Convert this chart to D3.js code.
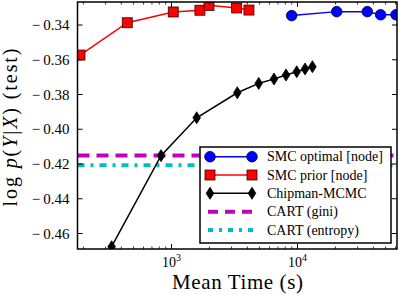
<!DOCTYPE html>
<html><head><meta charset="utf-8">
<script src="https://cdn.jsdelivr.net/npm/d3@7"></script>
<style>body{margin:0;background:#fff}svg{display:block}</style>
</head><body><svg id="c" width="399" height="295"></svg>
<script>
const smcOptX=[8990,20470,35800,45700,60500];
const smcOptY=[-0.3346,-0.3323,-0.3323,-0.3341,-0.3341];
const smcOptErr=[0.0009,0.0011,0,0,0];
const smcPriorX=[188,446,1033,1682,1985,3290,4120];
const smcPriorY=[-0.3573,-0.3387,-0.3325,-0.3315,-0.3287,-0.3302,-0.3314];
const smcPriorErr=[0.0016,0,0,0,0,0,0];
const mcmcX=[335,826,1585,3330,4920,6510,8110,9860,11480,13130];
const mcmcY=[-0.4676,-0.4152,-0.3934,-0.3790,-0.3736,-0.3711,-0.3688,-0.3669,-0.3653,-0.3640];
const cartGini=-0.4151;
const cartEntropy=-0.4207;
const yTicks=[-0.34,-0.36,-0.38,-0.40,-0.42,-0.44,-0.46];
const xMajor=[1e3,1e4];
const xTickLabels=["3","4"];
const legendLabels=["SMC optimal [node]","SMC prior [node]","Chipman-MCMC","CART (gini)","CART (entropy)"];

const FF="'Liberation Serif','DejaVu Serif',serif";
const L=77.5,R=397,T=2,B=249;
const x=d3.scaleLog().domain([179.6,61600]).range([L,R]);
const y=d3.scaleLinear().domain([-0.46892,-0.32676]).range([B,T]);
const svg=d3.select("#c");
svg.append("defs").append("clipPath").attr("id","clip").append("rect").attr("x",L).attr("y",T).attr("width",R-L).attr("height",B-T);
const g=svg.append("g").attr("clip-path","url(#clip)");

g.append("line").attr("x1",L).attr("x2",R).attr("y1",y(cartGini)).attr("y2",y(cartGini))
 .attr("stroke","#bf00bf").attr("stroke-width",4).attr("stroke-dasharray","12,7");
g.append("line").attr("x1",L).attr("x2",R).attr("y1",y(cartEntropy)).attr("y2",y(cartEntropy))
 .attr("stroke","#00bfbf").attr("stroke-width",4).attr("stroke-dasharray","7,6,3,6");

const line=d3.line();
function series(xs,ys,errs,color,errColor){
  const pts=xs.map((v,i)=>[x(v),y(ys[i])]);
  g.append("path").attr("d",line(pts)).attr("fill","none").attr("stroke",color).attr("stroke-width",1.5);
  if(errs){errs.forEach((e,i)=>{if(!e)return;const cx=x(xs[i]);
    const y1=y(ys[i]-e),y2=y(ys[i]+e);
    g.append("line").attr("x1",cx).attr("x2",cx).attr("y1",y1).attr("y2",y2).attr("stroke",errColor).attr("stroke-width",1.5);
    [y1,y2].forEach(yy=>g.append("line").attr("x1",cx-3.5).attr("x2",cx+3.5).attr("y1",yy).attr("y2",yy).attr("stroke",errColor).attr("stroke-width",1.5));
  });}
  return pts;
}
function circle(sel,cx,cy){sel.append("circle").attr("cx",cx).attr("cy",cy).attr("r",5.3).attr("fill","#0000ff").attr("stroke","#000033").attr("stroke-width",0.8);}
function square(sel,cx,cy){sel.append("rect").attr("x",cx-5).attr("y",cy-5).attr("width",10).attr("height",10).attr("fill","#ff0000").attr("stroke","#330000").attr("stroke-width",0.8);}
function diamond(sel,cx,cy){sel.append("path").attr("d",`M${cx},${cy-6}L${cx+3.8},${cy}L${cx},${cy+6}L${cx-3.8},${cy}Z`).attr("fill","#000").attr("stroke","#000").attr("stroke-width",0.8);}

const pr=series(smcPriorX,smcPriorY,smcPriorErr,"#ff0000","#ff8080");
pr.forEach(p=>square(g,p[0],p[1]));
const op=series(smcOptX,smcOptY,smcOptErr,"#0000ff","#4040ff");
op.forEach(p=>circle(g,p[0],p[1]));
const mc=series(mcmcX,mcmcY,null,"#000");
mc.forEach(p=>diamond(g,p[0],p[1]));

const ax=svg.append("g");
const minor=[];
[100,1000,10000].forEach(d=>{for(let k=2;k<10;k++){const v=d*k;if(v>179.6&&v<61600)minor.push(v);}});
minor.forEach(v=>{const px=x(v);
  ax.append("line").attr("x1",px).attr("x2",px).attr("y1",B).attr("y2",B-2.5).attr("stroke","#000").attr("stroke-width",0.8);
  ax.append("line").attr("x1",px).attr("x2",px).attr("y1",T).attr("y2",T+2.5).attr("stroke","#000").attr("stroke-width",0.8);});
xMajor.forEach((v,i)=>{const px=x(v);
  ax.append("line").attr("x1",px).attr("x2",px).attr("y1",B).attr("y2",B-5).attr("stroke","#000").attr("stroke-width",1);
  ax.append("line").attr("x1",px).attr("x2",px).attr("y1",T).attr("y2",T+5).attr("stroke","#000").attr("stroke-width",1);
  const t=ax.append("text").attr("x",px).attr("y",267).attr("text-anchor","middle").attr("font-size",14).attr("font-family",FF);
  t.append("tspan").text("10");
  t.append("tspan").attr("dy",-6).attr("font-size",10).text(xTickLabels[i]);
});
yTicks.forEach(v=>{const py=y(v);
  ax.append("line").attr("x1",L).attr("x2",L+5).attr("y1",py).attr("y2",py).attr("stroke","#000").attr("stroke-width",1);
  ax.append("line").attr("x1",R).attr("x2",R-5).attr("y1",py).attr("y2",py).attr("stroke","#000").attr("stroke-width",1);
  const t=ax.append("text").attr("x",69.5).attr("y",py+5).attr("text-anchor","end").attr("font-size",15).attr("font-family",FF);
  t.append("tspan").text("\u2212");
  t.append("tspan").attr("dx",3).text(Math.abs(v).toFixed(2));
});
svg.append("rect").attr("x",L).attr("y",T).attr("width",R-L).attr("height",B-T).attr("fill","none").attr("stroke","#000").attr("stroke-width",1.5);

svg.append("text").attr("x",237.5).attr("y",289).attr("text-anchor","middle").attr("font-size",21).attr("font-family",FF)
  .attr("textLength",131).attr("lengthAdjust","spacing").text("Mean Time (s)");
const yl=svg.append("text").attr("transform","translate(17,127.5) rotate(-90)").attr("text-anchor","middle").attr("font-size",20).attr("font-family",FF)
  .attr("textLength",158).attr("lengthAdjust","spacing");
[["log ",""],["p","italic"],["(",""],["Y","italic"],["|",""],["X","italic"],[")",""],[" (test)",""]].forEach(([s,st])=>{
  const ts=yl.append("tspan").text(s); if(st) ts.attr("font-style",st);});

const lg=svg.append("g");
lg.append("rect").attr("x",200).attr("y",147).attr("width",191).attr("height",96).attr("fill","#fff").attr("stroke","#000").attr("stroke-width",1.5);
const ly=[156.7,175,193.3,211.7,230];
const x1=210,x2=252;
lg.append("line").attr("x1",x1).attr("x2",x2).attr("y1",ly[0]).attr("y2",ly[0]).attr("stroke","#0000ff").attr("stroke-width",1.5);
circle(lg,x1,ly[0]);circle(lg,x2,ly[0]);
lg.append("line").attr("x1",x1).attr("x2",x2).attr("y1",ly[1]).attr("y2",ly[1]).attr("stroke","#ff0000").attr("stroke-width",1.5);
square(lg,x1,ly[1]);square(lg,x2,ly[1]);
lg.append("line").attr("x1",x1).attr("x2",x2).attr("y1",ly[2]).attr("y2",ly[2]).attr("stroke","#000").attr("stroke-width",1.5);
diamond(lg,x1,ly[2]);diamond(lg,x2,ly[2]);
lg.append("line").attr("x1",x1-2).attr("x2",x2+2).attr("y1",ly[3]).attr("y2",ly[3]).attr("stroke","#bf00bf").attr("stroke-width",4).attr("stroke-dasharray","10,7");
lg.append("line").attr("x1",x1-2).attr("x2",x2+2).attr("y1",ly[4]).attr("y2",ly[4]).attr("stroke","#00bfbf").attr("stroke-width",4).attr("stroke-dasharray","5,6,3,6");
legendLabels.forEach((s,i)=>lg.append("text").attr("x",267).attr("y",ly[i]+4.5).attr("font-size",14).attr("font-family",FF).text(s));
</script></body></html>
